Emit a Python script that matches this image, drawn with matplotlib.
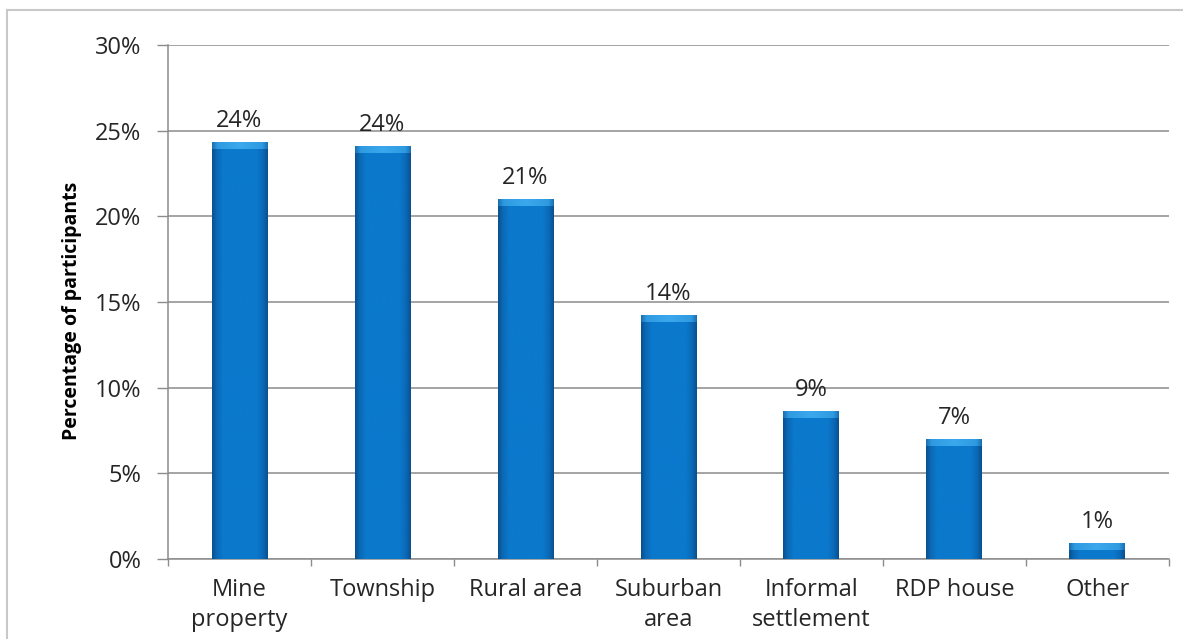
import numpy as np
import matplotlib
matplotlib.use("Agg")
import matplotlib.pyplot as plt
from matplotlib.lines import Line2D
from matplotlib.colors import LinearSegmentedColormap

categories = ["Mine\nproperty", "Township", "Rural area", "Suburban\narea",
              "Informal\nsettlement", "RDP house", "Other"]
values = [24.3, 24.1, 21.0, 14.2, 8.6, 7.0, 0.9]
yticks = [0, 5, 10, 15, 20, 25, 30]
ytick_labels = ["0%", "5%", "10%", "15%", "20%", "25%", "30%"]

plt.rcParams["font.family"] = ["Open Sans", "DejaVu Sans"]

fig = plt.figure(figsize=(11.83, 6.39), dpi=100)
ax = fig.add_axes([0.142, 0.1252, 0.846, 0.8044])

x = np.arange(len(categories))
bars = ax.bar(x, values, width=0.39, color="none", zorder=3)

# horizontal shading: flat blue body with darker rims
shade = LinearSegmentedColormap.from_list(
    "barshade",
    [(0.0, "#0a4f8c"), (0.08, "#0b68b4"), (0.2, "#0b79cc"),
     (0.8, "#0b79cc"), (0.92, "#0b68b4"), (1.0, "#0a4f8c")])
grad = np.linspace(0, 1, 256).reshape(1, -1)
top_cmap = LinearSegmentedColormap.from_list(
    "bartop",
    [(0.0, "#1a6db0"), (0.1, "#2f9ae0"), (0.5, "#3ba8ee"),
     (0.9, "#2f9ae0"), (1.0, "#1a6db0")])
for b in bars:
    x0, y0 = b.get_x(), b.get_y()
    w, h = b.get_width(), b.get_height()
    ax.imshow(grad, cmap=shade, aspect="auto", extent=(x0, x0 + w, y0, y0 + h),
              zorder=3, interpolation="bicubic")
    cap = min(0.38, h * 0.45)
    ax.imshow(grad, cmap=top_cmap, aspect="auto",
              extent=(x0, x0 + w, y0 + h - cap, y0 + h),
              zorder=4, interpolation="bicubic")
    ax.text(x0 + w / 2, y0 + h + 0.55, f"{round(b.get_height())}%",
            ha="center", va="bottom", fontsize=17, color="#262626", zorder=5)

ax.set_xlim(-0.5, len(categories) - 0.5)
ax.set_ylim(0, 30)
ax.set_yticks(yticks)
ax.set_yticklabels(ytick_labels, fontsize=17, color="#262626")
ax.set_xticks(x)
ax.set_xticklabels(categories, fontsize=17, color="#262626", linespacing=1.3)
ax.set_xticks(np.arange(-0.5, len(categories) + 0.5, 1), minor=True)
ax.tick_params(axis="x", which="major", length=0, pad=14)
ax.tick_params(axis="x", which="minor", length=5, color="#8c8c8c", width=1)
ax.tick_params(axis="y", length=8, color="#8c8c8c", width=1, pad=11)

ax.grid(axis="y", color="#8c8c8c", linewidth=1.1, zorder=0)
ax.set_axisbelow(True)
for side in ["top", "right"]:
    ax.spines[side].set_visible(False)
for side in ["left", "bottom"]:
    ax.spines[side].set_color("#8c8c8c")
    ax.spines[side].set_linewidth(1.1)

ax.set_ylabel("Percentage of participants", fontsize=14, fontweight="bold",
              color="#000000", va="center")
ax.yaxis.set_label_coords(-0.096, 0.482)

# outer frame around the chart
fig.add_artist(Line2D([7 / 1183, 7 / 1183], [0, 1 - 10 / 639],
                      transform=fig.transFigure, color="#c8c8c8", linewidth=1.5))
fig.add_artist(Line2D([7 / 1183, 1], [1 - 10 / 639, 1 - 10 / 639],
                      transform=fig.transFigure, color="#c8c8c8", linewidth=1.5))

fig.savefig("out.png", dpi=100, facecolor="white")
